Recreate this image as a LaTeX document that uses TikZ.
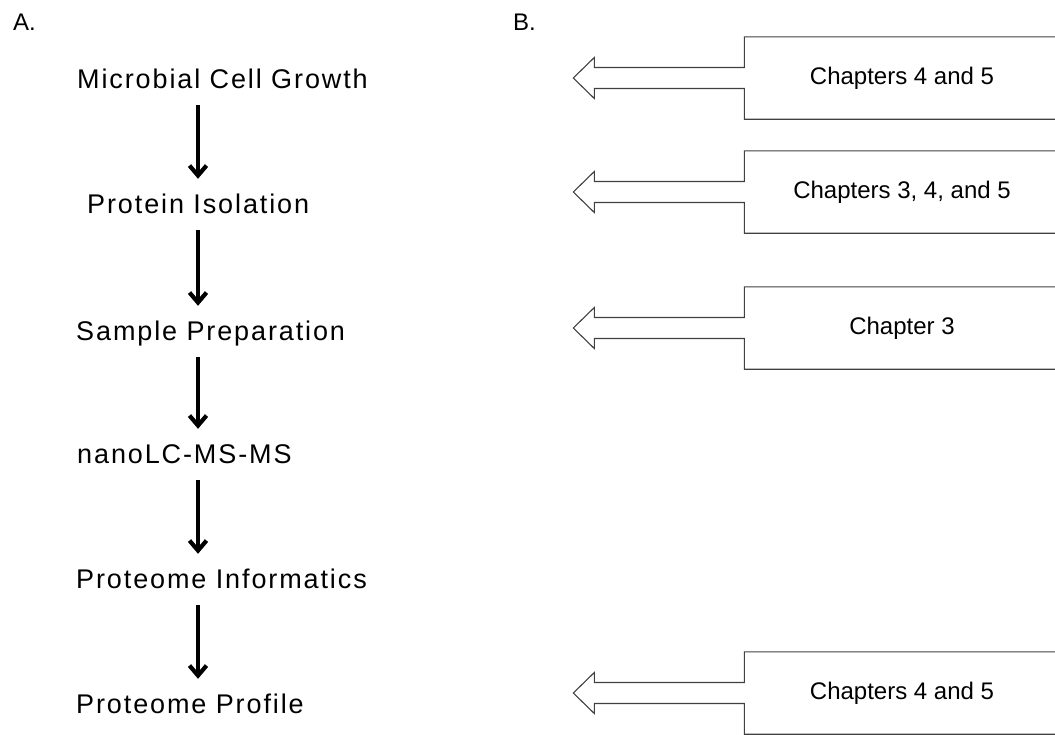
\documentclass[tikz,border=0pt]{standalone}
\usepackage{fontspec}
\setmainfont{Liberation Sans}
\newfontfamily\stepfont[LetterSpace=7]{Liberation Sans}
\newfontfamily\chapfont{Liberation Sans}
\usetikzlibrary{arrows.meta}

% outline of a chapter box with its open block arrow
\newcommand{\chapcallout}[1]{%
  \draw[calloutline] (#1.north east) -- (#1.north west)
    -- ([yshift=10.5pt]#1.west) -- ++(-150pt,0) -- ++(0,10pt)
    -- ++(-21pt,-20.5pt) -- ++(21pt,-20.5pt) -- ++(0,10pt)
    -- ++(150pt,0) -- (#1.south west) -- (#1.south east);}

\begin{document}
\begin{tikzpicture}[
    x=1pt, y=-1pt,
    panel/.style={anchor=base west, inner sep=0pt,
      font=\chapfont\fontsize{24}{28}\selectfont},
    steplabel/.style={anchor=base west, inner sep=0pt,
      text height=20pt, text depth=6pt,
      font=\stepfont\fontsize{27}{32}\selectfont},
    chapbox/.style={minimum width=315pt, minimum height=82pt, inner sep=0pt,
      font=\chapfont\fontsize{24}{28}\selectfont},
    calloutline/.style={draw=black!75, line width=1.1pt},
    flowarrow/.style={line width=4.2pt, shorten <=11pt, shorten >=14pt,
      -{Straight Barb[length=10pt,width=17pt]}},
  ]
  \useasboundingbox (0,0) rectangle (1055,734);
  \clip (0,0) rectangle (1055,734);

  \node[panel] (pa) at (13,30) {A.};
  \node[panel] (pb) at (513,30) {B.};

  % workflow
  \node[steplabel] (growth) at (77,88) {Microbial Cell Growth};
  \node[steplabel] (isolation) at (87,213) {Protein Isolation};
  \node[steplabel] (prep) at (76,340) {Sample Preparation};
  \node[steplabel] (nanolc) at (77,463) {nanoLC-MS-MS};
  \node[steplabel] (informatics) at (76,588) {Proteome Informatics};
  \node[steplabel] (profile) at (76,713) {Proteome Profile};

  \coordinate (axis) at (198,0);
  \foreach \a/\b in {growth/isolation, isolation/prep, prep/nanolc,
                     nanolc/informatics, informatics/profile}
    \draw[flowarrow] (\a.south -| axis) -- (\b.north -| axis);

  % chapters
  \node[chapbox] (ch1) at (902,78) {Chapters 4 and 5};
  \node[chapbox] (ch2) at (902,192) {Chapters 3, 4, and 5};
  \node[chapbox] (ch3) at (902,328) {Chapter 3};
  \node[chapbox] (ch4) at (902,693) {Chapters 4 and 5};
  \foreach \c in {ch1,ch2,ch3,ch4}
    \chapcallout{\c};
\end{tikzpicture}
\end{document}
